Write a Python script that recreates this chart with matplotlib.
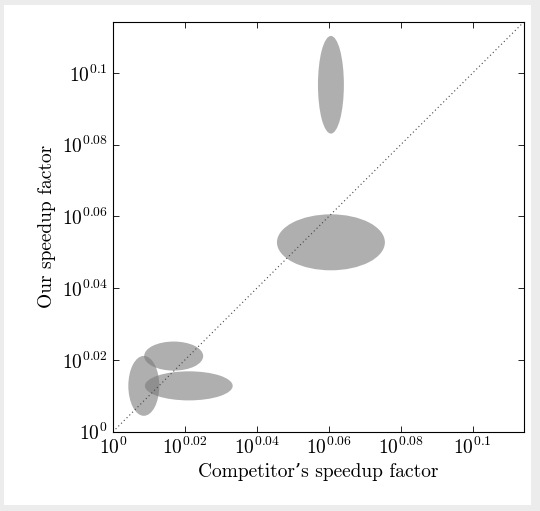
import matplotlib.pyplot as plt
from matplotlib.patches import Ellipse, Rectangle

plt.rcParams['font.family'] = ['cmr10', 'DejaVu Serif']
plt.rcParams['mathtext.fontset'] = 'cm'
plt.rcParams['axes.formatter.use_mathtext'] = True

# ellipse centres and sizes, in log10 exponents
cx = [0.0606, 0.0606, 0.0169, 0.0211, 0.0086]
cy = [0.0967, 0.0528, 0.0211, 0.0128, 0.0128]
w = [0.0072, 0.0300, 0.0164, 0.0244, 0.0086]
h = [0.0272, 0.0156, 0.0081, 0.0081, 0.0167]
ticks = [0, 0.02, 0.04, 0.06, 0.08, 0.1]
lim = 0.1142

fig = plt.figure(figsize=(5.4, 5.11), dpi=100, facecolor='#ececec')
fig.patches.append(Rectangle((0.008, 0.012), 0.975, 0.978, transform=fig.transFigure,
                             facecolor='white', edgecolor='none', zorder=-1))
ax = fig.add_axes([0.209, 0.155, 0.761, 0.802])

for x, y, ww, hh in zip(cx, cy, w, h):
    ax.add_patch(Ellipse((x, y), ww, hh, facecolor='#7a7a7a', alpha=0.6, edgecolor='none'))

ax.plot([0, lim], [0, lim], ls=(0, (1, 2.5)), color='#444444', lw=0.8)
ax.set_xlim(0, lim)
ax.set_ylim(0, lim)
labels = ['$10^{0}$' if t == 0 else f'$10^{{{t:g}}}$' for t in ticks]
ax.set_xticks(ticks, labels)
ax.set_yticks(ticks, labels)
ax.tick_params(direction='in', top=True, right=True, labelsize=14, length=4, width=0.6)
for s in ax.spines.values():
    s.set_linewidth(0.8)
ax.set_xlabel("Competitor’s speedup factor", fontsize=14, labelpad=4)
ax.set_ylabel("Our speedup factor", fontsize=14)

fig.savefig('out.png', dpi=100, facecolor=fig.get_facecolor())
